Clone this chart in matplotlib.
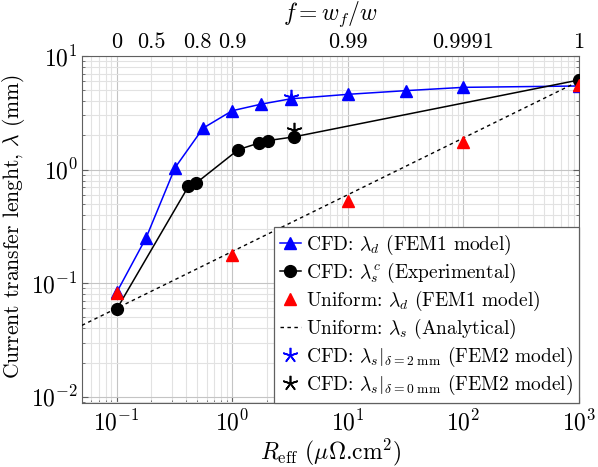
import matplotlib
matplotlib.use("Agg")
import matplotlib.pyplot as plt
from matplotlib.ticker import LogLocator, NullFormatter, FixedLocator

plt.rcParams["font.family"] = "cmr10"
plt.rcParams["mathtext.fontset"] = "cm"
plt.rcParams["axes.unicode_minus"] = False
plt.rcParams["axes.formatter.use_mathtext"] = True
plt.rcParams["font.size"] = 17

# CFD, lambda_d (FEM1 model)
r_blue = [0.1, 0.18, 0.32, 0.56, 1.0, 1.78, 3.2, 10, 32, 100, 1000]
lam_blue = [0.083, 0.252, 1.04, 2.32, 3.3, 3.77, 4.2, 4.6, 4.96, 5.3, 5.45]

# CFD, lambda_s^c (Experimental)
r_black = [0.1, 0.417, 0.486, 1.13, 1.69, 2.03, 3.4, 1000]
lam_black = [0.059, 0.71, 0.76, 1.5, 1.71, 1.8, 1.94, 6.15]

# Uniform, lambda_d (FEM1 model)
r_red = [0.1, 1, 10, 100, 1000]
lam_red = [0.082, 0.176, 0.53, 1.74, 5.6]

# Uniform, lambda_s (Analytical) - straight line on log-log
r_dash = [0.05, 1000]
lam_dash = [0.0425, 6.0]

# FEM2 stars
r_star_blue, lam_star_blue = [3.2], [4.4]
r_star_black, lam_star_black = [3.4], [2.24]

# top axis: f = w_f / w
f_labels = ["0", "0.5", "0.8", "0.9", "0.99", "0.9991", "1"]
f_pos = [0.1, 0.2, 0.5, 1.0, 10, 100, 1000]

fig = plt.figure(figsize=(5.98, 4.67), dpi=100)
ax = fig.add_axes([0.137, 0.137, 0.831, 0.743])

ax.set_xscale("log")
ax.set_yscale("log")
ax.set_xlim(0.05, 1000)
ax.set_ylim(0.0088, 10)

ax.grid(True, which="major", color="#c4c4c4", linewidth=0.8)
ax.grid(True, which="minor", color="#e2e2e2", linewidth=0.8)
ax.set_axisbelow(True)
ax.xaxis.set_minor_locator(LogLocator(base=10, subs=range(2, 10), numticks=20))
ax.yaxis.set_minor_locator(LogLocator(base=10, subs=range(2, 10), numticks=20))
ax.xaxis.set_minor_formatter(NullFormatter())
ax.yaxis.set_minor_formatter(NullFormatter())
ax.tick_params(which="both", direction="in", top=True, right=True, color="#606060")
ax.tick_params(which="major", length=4)
ax.tick_params(which="minor", length=2.5)
ax.tick_params(axis="x", which="major", pad=5)
ax.tick_params(axis="y", which="major", pad=3)
for s in ax.spines.values():
    s.set_color("#606060")

star = (5, 2, 0)
ax.plot(r_blue, lam_blue, "-", color="blue", lw=1.1, marker="^", ms=8,
        label=r"CFD: $\lambda_d$ (FEM1 model)", zorder=3)
ax.plot(r_black, lam_black, "-", color="black", lw=1.1, marker="o", ms=8.5,
        label=r"CFD: $\lambda_s^c$ (Experimental)", zorder=3)
ax.plot(r_red, lam_red, ls="none", color="red", marker="^", ms=8,
        label=r"Uniform: $\lambda_d$ (FEM1 model)", zorder=4)
ax.plot(r_dash, lam_dash, "--", color="black", lw=1.0, dashes=(2.5, 2.5),
        label=r"Uniform: $\lambda_s$ (Analytical)", zorder=3)
ax.plot(r_star_blue, lam_star_blue, ls="none", color="blue", marker=star, ms=11, mew=1.2,
        label=r"CFD: $\lambda_s|_{\delta=2\ \mathrm{mm}}$ (FEM2 model)", zorder=4)
ax.plot(r_star_black, lam_star_black, ls="none", color="black", marker=star, ms=11, mew=1.2,
        label=r"CFD: $\lambda_s|_{\delta=0\ \mathrm{mm}}$ (FEM2 model)", zorder=4)

ax.set_xlabel(r"$R_{\mathrm{eff}}$ ($\mu\Omega$.cm$^2$)", labelpad=1)
ax.set_ylabel(r"Current transfer lenght, $\lambda$ (mm)", fontsize=15.5)
ax.yaxis.set_label_coords(-0.11, 0.51)

leg = ax.legend(loc="lower right", borderaxespad=0, fancybox=False, framealpha=1,
                edgecolor="#606060", handlelength=1.1, handletextpad=0.25,
                labelspacing=0.2, borderpad=0.3, fontsize=14)
leg.get_frame().set_linewidth(0.9)

ax2 = ax.twiny()
ax2.set_xscale("log")
ax2.set_xlim(ax.get_xlim())
ax2.xaxis.set_major_locator(FixedLocator(f_pos))
ax2.xaxis.set_minor_locator(FixedLocator([]))
ax2.set_xticklabels(f_labels)
ax2.tick_params(length=0, pad=3, labelsize=16)
for s in ax2.spines.values():
    s.set_visible(False)
ax2.set_xlabel(r"$f = w_f/w$", labelpad=9, fontsize=17)

fig.savefig("out.png", dpi=100)
